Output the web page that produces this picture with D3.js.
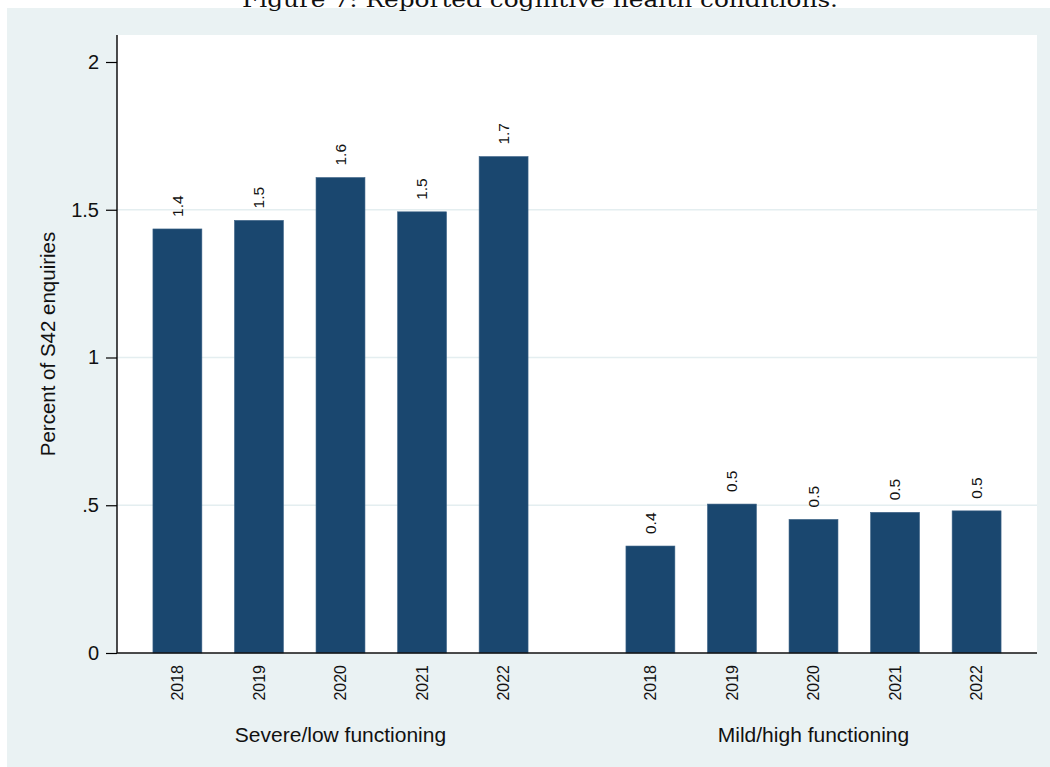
<!DOCTYPE html>
<html>
<head>
<meta charset="utf-8">
<script src="https://cdn.jsdelivr.net/npm/d3@7.9.0/dist/d3.min.js"></script>
<style>
  html, body { margin: 0; padding: 0; background: #fff; }
  svg { display: block; }
  text { font-family: Arial, "Liberation Sans", sans-serif; fill: #111; }
</style>
</head>
<body>
<svg id="chart" width="1050" height="767"></svg>
<script>
// Data
const groups = ['Severe/low functioning', 'Mild/high functioning'];
const years = ['2018', '2019', '2020', '2021', '2022'];
const severeValues = [1.435, 1.464, 1.609, 1.493, 1.680];
const mildValues = [0.362, 0.504, 0.452, 0.476, 0.481];
const yTicks = [0, 0.5, 1, 1.5, 2];
const gridTicks = [0.5, 1, 1.5];

const rows = [];
groups.forEach((g, gi) => {
  const vals = gi === 0 ? severeValues : mildValues;
  years.forEach((y, yi) => rows.push({ group: g, year: y, value: vals[yi] }));
});

const width = 1050;
const height = 767;

// plot region
const plot = { left: 117, right: 1037, top: 35, bottom: 653 };

const svg = d3.select('#chart');

// outer graph region
svg.append('rect')
  .attr('x', 7).attr('y', 8)
  .attr('width', width - 7).attr('height', height - 8)
  .attr('fill', '#eaf2f3');

svg.append('rect')
  .attr('x', plot.left).attr('y', plot.top)
  .attr('width', plot.right - plot.left).attr('height', plot.bottom - plot.top)
  .attr('fill', '#fff');

// title, mostly cut off at the top of the page (as in the source)
svg.append('text')
  .attr('x', 540).attr('y', 7)
  .attr('text-anchor', 'middle')
  .attr('textLength', 596)
  .attr('lengthAdjust', 'spacingAndGlyphs')
  .style('font-family', '"DejaVu Serif", "Liberation Serif", serif')
  .style('font-size', '21px')
  .text('Figure 7: Reported cognitive health conditions.');

// scales
const yScale = d3.scaleLinear()
  .domain([0, 2])
  .range([plot.bottom, 62]);

const xGroup = d3.scaleBand()
  .domain(groups)
  .range([plot.left, plot.right])
  .paddingInner(0.138)
  .paddingOuter(0.0415);

const xYear = d3.scaleBand()
  .domain(years)
  .range([0, xGroup.bandwidth()])
  .paddingInner(0.4)
  .paddingOuter(0.2);

// gridlines
svg.append('g')
  .selectAll('line')
  .data(gridTicks)
  .join('line')
  .attr('x1', plot.left).attr('x2', plot.right)
  .attr('y1', (d) => yScale(d)).attr('y2', (d) => yScale(d))
  .attr('stroke', '#e4eef0')
  .attr('stroke-width', 1.5);

// bars
const barX = (d) => xGroup(d.group) + xYear(d.year);

svg.append('g')
  .selectAll('rect')
  .data(rows)
  .join('rect')
  .attr('x', barX)
  .attr('y', (d) => yScale(d.value))
  .attr('width', xYear.bandwidth())
  .attr('height', (d) => yScale(0) - yScale(d.value))
  .attr('fill', '#1a476f')
  .attr('stroke', '#3d6386')
  .attr('stroke-width', 0.6);

// value labels
const fmt = d3.format('.1f');
svg.append('g')
  .selectAll('text')
  .data(rows)
  .join('text')
  .attr('transform', (d) =>
    `translate(${barX(d) + xYear.bandwidth() / 2}, ${yScale(d.value) - 12}) rotate(-90)`)
  .attr('dy', '0.35em')
  .attr('text-anchor', 'start')
  .style('font-size', '15.5px')
  .text((d) => fmt(d.value));

// y axis
const yAxis = d3.axisLeft(yScale)
  .tickValues(yTicks)
  .tickSize(11)
  .tickPadding(7)
  .tickFormat((d) => d3.format('~g')(d).replace(/^0\./, '.'));

const yG = svg.append('g')
  .attr('transform', `translate(${plot.left}, 0)`)
  .call(yAxis);
yG.select('.domain').remove();
yG.append('line')
  .attr('x1', 0).attr('x2', 0)
  .attr('y1', plot.top).attr('y2', plot.bottom)
  .attr('stroke', '#000').attr('stroke-width', 1.4);
yG.selectAll('.tick line').attr('stroke', '#000').attr('stroke-width', 1.2);
yG.selectAll('.tick text')
  .style('font-size', '20px')
  .style('font-family', 'Arial, "Liberation Sans", sans-serif')
  .attr('fill', '#111');

// x axis line
svg.append('line')
  .attr('x1', plot.left).attr('x2', plot.right)
  .attr('y1', yScale(0)).attr('y2', yScale(0))
  .attr('stroke', '#111').attr('stroke-width', 1.6);

// year labels
svg.append('g')
  .selectAll('text')
  .data(rows)
  .join('text')
  .attr('transform', (d) =>
    `translate(${barX(d) + xYear.bandwidth() / 2}, ${yScale(0) + 12}) rotate(-90)`)
  .attr('dy', '0.35em')
  .attr('text-anchor', 'end')
  .style('font-size', '16px')
  .text((d) => d.year);

// group labels
svg.append('g')
  .selectAll('text')
  .data(groups)
  .join('text')
  .attr('x', (d) => xGroup(d) + xGroup.bandwidth() / 2)
  .attr('y', 742)
  .attr('text-anchor', 'middle')
  .style('font-size', '21px')
  .text((d) => d);

// y axis title
svg.append('text')
  .attr('transform', `translate(55, ${(plot.top + plot.bottom) / 2}) rotate(-90)`)
  .attr('text-anchor', 'middle')
  .style('font-size', '20.5px')
  .text('Percent of S42 enquiries');
</script>
</body>
</html>
